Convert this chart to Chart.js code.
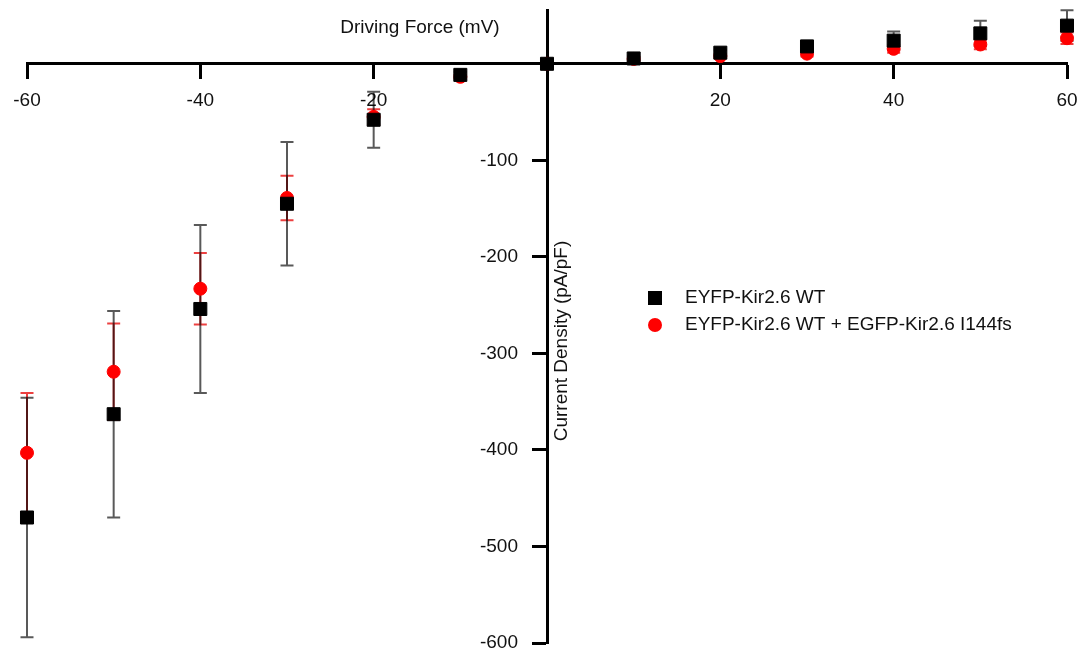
<!DOCTYPE html>
<html>
<head>
<meta charset="utf-8">
<script src="https://cdn.jsdelivr.net/npm/chart.js@4/dist/chart.umd.min.js"></script>
<style>
  html, body { margin: 0; padding: 0; background: #ffffff; }
  #wrap { width: 1086px; height: 660px; position: relative; }
</style>
</head>
<body>
<div id="wrap"><canvas id="c" width="1086" height="660"></canvas></div>
<script>
// ---- data ----
const drivingForce = [-60, -50, -40, -30, -20, -10, 0, 10, 20, 30, 40, 50, 60];
const wtMean = [-470, -363, -254, -145, -58, -11.5, 0, 5.5, 11.5, 18, 24, 31.5, 39.5];
const wtErr  = [124, 107, 87, 64, 29, 3, 0, 2, 3, 4, 9.5, 13, 16];
const mixMean = [-403, -319, -233, -139, -55, -13.5, 0, 5, 8, 10.5, 15.5, 20, 26.5];
const mixErr  = [62, 50, 37, 23, 8, 2, 0, 2, 2, 3, 4, 5, 6];
const seriesLabels = ['EYFP-Kir2.6 WT', 'EYFP-Kir2.6 WT + EGFP-Kir2.6 I144fs'];
const xTitle = 'Driving Force (mV)';
const yTitle = 'Current Density (pA/pF)';
const xTickValues = [-60, -40, -20, 20, 40, 60];
const yTickValues = [-100, -200, -300, -400, -500, -600];

const FONT = '"Liberation Sans", Arial, Helvetica, sans-serif';
const TXT = '#111111';

function toPoints(xs, ys) { return xs.map((x, i) => ({x: x, y: ys[i]})); }

const errorBars = {
  id: 'errorBars',
  beforeDatasetsDraw(chart) {
    const ctx = chart.ctx;
    const xs = chart.scales.x, ys = chart.scales.y;
    const sets = [
      {means: mixMean, errs: mixErr, color: 'rgba(230,0,0,0.75)'},
      {means: wtMean, errs: wtErr, color: 'rgba(0,0,0,0.65)'}
    ];
    ctx.save();
    ctx.lineWidth = 2;
    sets.forEach(s => {
      ctx.strokeStyle = s.color;
      drivingForce.forEach((xv, i) => {
        const e = s.errs[i];
        if (!e) return;
        const px = xs.getPixelForValue(xv);
        const pt = ys.getPixelForValue(s.means[i] + e);
        const pb = ys.getPixelForValue(s.means[i] - e);
        ctx.beginPath();
        ctx.moveTo(px, pt); ctx.lineTo(px, pb);
        ctx.moveTo(px - 6.5, pt); ctx.lineTo(px + 6.5, pt);
        ctx.moveTo(px - 6.5, pb); ctx.lineTo(px + 6.5, pb);
        ctx.stroke();
      });
    });
    ctx.restore();
  }
};

// tick labels offset from the crossing axes
const labelShift = {
  id: 'labelShift',
  beforeDraw(chart) {
    const shift = (scale, dx, dy) => {
      scale.getLabelItems(chart.chartArea).forEach(it => {
        if (!it._shifted && it.options && it.options.translation) {
          it.options.translation[0] += dx;
          it.options.translation[1] += dy;
          it._shifted = true;
        }
      });
    };
    shift(chart.scales.y, -29, 0);
    shift(chart.scales.x, 0, 4);
  }
};

const extras = {
  id: 'extras',
  afterDraw(chart) {
    const ctx = chart.ctx;
    ctx.save();
    ctx.fillStyle = TXT;
    ctx.font = '19px ' + FONT;
    ctx.textBaseline = 'middle';
    ctx.textAlign = 'center';
    ctx.fillText(xTitle, 420, 28);
    ctx.save();
    ctx.translate(562, 341);
    ctx.rotate(-Math.PI / 2);
    ctx.fillText(yTitle, 0, 0);
    ctx.restore();
    // legend
    ctx.textAlign = 'left';
    ctx.fillStyle = '#000000';
    ctx.fillRect(648, 291, 14, 14);
    ctx.fillStyle = '#ff0000';
    ctx.beginPath(); ctx.arc(655, 325, 7, 0, Math.PI * 2); ctx.fill();
    ctx.fillStyle = TXT;
    ctx.fillText(seriesLabels[0], 685, 298);
    ctx.fillText(seriesLabels[1], 685, 325);
    ctx.restore();
  }
};

new Chart(document.getElementById('c'), {
  type: 'scatter',
  data: {
    datasets: [
      {
        label: seriesLabels[0],
        data: toPoints(drivingForce, wtMean),
        pointStyle: 'rect',
        pointRadius: 9.2,
        pointBorderWidth: 1,
        backgroundColor: '#000000',
        borderColor: '#000000',
        showLine: false,
        clip: false
      },
      {
        label: seriesLabels[1],
        data: toPoints(drivingForce, mixMean),
        pointStyle: 'circle',
        pointRadius: 6.5,
        pointBorderWidth: 1,
        backgroundColor: '#ff0000',
        borderColor: '#ff0000',
        showLine: false,
        clip: false
      }
    ]
  },
  options: {
    responsive: false,
    animation: false,
    events: [],
    layout: { padding: { left: 27, right: 19, top: 6, bottom: 17 } },
    plugins: { legend: { display: false }, tooltip: { enabled: false } },
    scales: {
      x: {
        type: 'linear',
        position: { y: 0 },
        min: -60, max: 60,
        afterBuildTicks: s => { s.ticks = xTickValues.map(v => ({value: v})); },
        grid: { display: true, drawOnChartArea: false, drawTicks: true, tickLength: 14, tickWidth: 3, tickColor: '#000' },
        border: { display: true, color: '#000', width: 3 },
        ticks: { color: TXT, font: { family: FONT, size: 19 }, padding: 8, maxRotation: 0, autoSkip: false,
                 callback: v => String(v) }
      },
      y: {
        type: 'linear',
        position: { x: 0 },
        min: -600, max: 55.5,
        afterBuildTicks: s => { s.ticks = yTickValues.map(v => ({value: v})); },
        grid: { display: true, drawOnChartArea: false, drawTicks: true, tickLength: 14, tickWidth: 3, tickColor: '#000' },
        border: { display: true, color: '#000', width: 3 },
        ticks: { color: TXT, font: { family: FONT, size: 19, lineHeight: 0.6 }, padding: 0, autoSkip: false,
                 callback: v => String(v) }
      }
    }
  },
  plugins: [errorBars, labelShift, extras]
});
</script>
</body>
</html>
